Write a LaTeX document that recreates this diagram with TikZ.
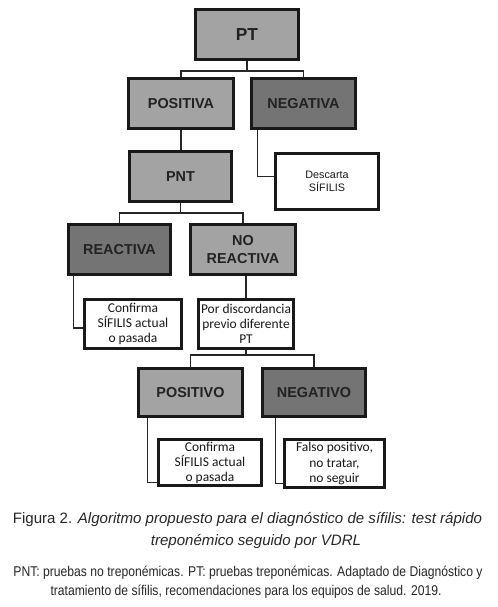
\documentclass[tikz,border=0pt]{standalone}
\usepackage{fontspec}
\setmainfont{Liberation Sans}
\newfontfamily\boxfont{Carlito}
\newfontfamily\capfont{Liberation Sans}
\newfontfamily\capfontb[FakeStretch=0.86]{Liberation Sans}
\definecolor{lgray}{HTML}{A3A3A3}
\definecolor{dgray}{HTML}{747474}
\definecolor{txt}{HTML}{222222}
\begin{document}
\begin{tikzpicture}[x=0.75pt,y=-0.75pt,
  sz/.style 2 args={minimum width=#1*0.75pt, minimum height=#2*0.75pt},
  tbox/.style={draw=black!90, line width=2.2pt, align=center, inner sep=0pt, text=txt,
    font=\bfseries\fontsize{10.8}{13.5}\selectfont},
  lbox/.style={tbox, fill=lgray},
  dbox/.style={tbox, fill=dgray},
  wbox/.style={draw=black!90, line width=2.2pt, fill=white, align=center, inner sep=0pt,
    text=black!90, font=\boxfont\fontsize{10.1}{11.3}\selectfont},
  conn/.style={draw=black!85, line width=0.8pt},
  captxt/.style={inner sep=0pt, text=black!85}
  ]
\useasboundingbox (0,0) rectangle (497,607);
% boxes
\node[lbox, sz={103}{50}, font=\bfseries\fontsize{13}{15}\selectfont] (PT) at (247,34.5) {PT};
\node[lbox, sz={105}{50}] (POS) at (181,103.5) {POSITIVA};
\node[dbox, sz={104}{50}] (NEG) at (303.5,103.5) {NEGATIVA};
\node[lbox, sz={102}{50}] (PNT) at (180.5,176.5) {PNT};
\node[wbox, sz={103}{56}, font=\fontsize{8.1}{9.3}\selectfont] (DES) at (327,181.5) {Descarta\\SÍFILIS};
\node[dbox, sz={102}{50}] (REA) at (119.5,249.5) {REACTIVA};
\node[lbox, sz={105}{50}] (NRE) at (243,249.5) {NO\\REACTIVA};
\node[wbox, sz={97}{49}] (CF1) at (133,324) {Confirma\\SÍFILIS actual\\o pasada};
\node[wbox, sz={95}{49}] (PD) at (246,324) {Por discordancia\\previo diferente\\PT};
\node[lbox, sz={104}{48}] (POO) at (190.5,392.5) {POSITIVO};
\node[dbox, sz={103}{48}] (NEO) at (314,392.5) {NEGATIVO};
\node[wbox, sz={103}{46}] (CF2) at (210,462.5) {Confirma\\SÍFILIS actual\\o pasada};
\node[wbox, sz={100}{48}] (FP) at (334.5,463.5) {Falso positivo,\\no tratar,\\no seguir};
% connectors
\draw[conn] (PT.south) -- ++(0,10) coordinate (j1);
\draw[conn] (POS.north) |- (j1) -| (NEG.north);
\draw[conn] (POS.south) -- (POS.south |- PNT.north);
\draw[conn] ([xshift=5.25pt]NEG.south west) |- ([yshift=4pt]DES.west);
\draw[conn] (PNT.south) -- ++(0,10) coordinate (j2);
\draw[conn] (REA.north) |- (j2) -| (NRE.north);
\draw[conn] ([xshift=4.5pt]REA.south west) |- ([yshift=-3pt]CF1.west);
\draw[conn] (PD.north |- NRE.south) -- (PD.north);
\draw[conn] (PD.south) -- ++(0,5) coordinate (j3);
\draw[conn] (POO.north) |- (j3) -| (NEO.north);
\draw[conn] ([xshift=7.5pt]POO.south west) |- ([yshift=-15pt]CF2.west);
\draw[conn] ([xshift=10.5pt]NEO.south west) |- ([yshift=-15pt]FP.west);
% caption
\node[captxt, font=\capfont\fontsize{11.3}{13}\selectfont] (c1) at (247.5,520)
  {Figura 2. \itshape Algoritmo propuesto para el diagnóstico de sífilis: test rápido};
\node[captxt, font=\capfont\itshape\fontsize{11.3}{13}\selectfont] (c2) at (256,542)
  {treponémico seguido por VDRL};
\node[captxt, font=\capfontb\fontsize{10.6}{12}\selectfont] (c3) at (248,573)
  {PNT: pruebas no treponémicas. PT: pruebas treponémicas. Adaptado de Diagnóstico y};
\node[captxt, font=\capfontb\fontsize{10.6}{12}\selectfont] (c4) at (246,592)
  {tratamiento de sífilis, recomendaciones para los equipos de salud. 2019.};
\end{tikzpicture}
\end{document}
